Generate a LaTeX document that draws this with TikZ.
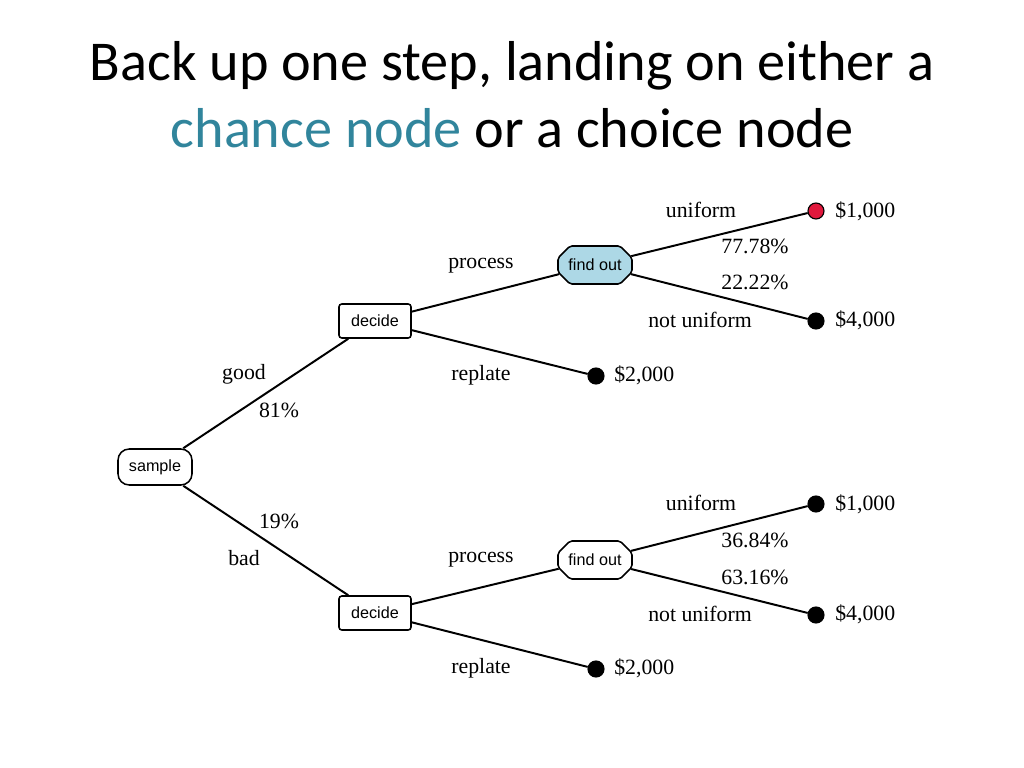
\documentclass[tikz,border=0pt]{standalone}
\usepackage{fontspec}
\setmainfont{Liberation Serif}
\setsansfont{Liberation Sans}
\newfontfamily\titlefont{Carlito}
\usetikzlibrary{shapes.misc}
\definecolor{chancecol}{HTML}{31859C}
\definecolor{findfill}{HTML}{ADD8E6}
\definecolor{payred}{HTML}{E0183C}
\tikzset{
  choicebox/.style={draw,line width=1.1pt,rounded corners=2pt,minimum width=1.8cm,minimum height=0.85cm,inner sep=0pt,font=\sffamily\fontsize{11.5}{12}\selectfont},
  chancebox/.style={draw,line width=1.1pt,chamfered rectangle,chamfered rectangle xsep=0.15cm,chamfered rectangle ysep=0.15cm,rounded corners=1.5pt,minimum width=1.85cm,minimum height=0.95cm,inner sep=0pt,font=\sffamily\fontsize{11.5}{12}\selectfont},
  startbox/.style={draw,line width=1.1pt,rounded corners=8pt,minimum width=1.85cm,minimum height=0.9cm,inner sep=0pt,font=\sffamily\fontsize{11.5}{12}\selectfont},
  paydot/.style={circle,draw,fill=black,line width=0.8pt,minimum size=0.4cm,inner sep=0pt},
  lbl/.style={font=\fontsize{15.5}{16}\selectfont,inner sep=0pt},
  pay/.style={lbl,anchor=west},
  branch/.style={line width=1.4pt}
}
\begin{document}
\begin{tikzpicture}[x=0.025cm,y=-0.025cm]
    \useasboundingbox (0,0) rectangle (1024,768);
    %\draw[help lines] (0,0) grid[step=50] (1024,768);
       \node[font=\titlefont\fontsize{40}{48}\selectfont,anchor=base] (title1) at (512,81) {Back up one step, landing on either a};
       \node[font=\titlefont\fontsize{40}{48}\selectfont,anchor=base] (title2) at (512,148) {\textcolor{chancecol}{chance node} or a choice node};
       % tree nodes
       \node[startbox] (sample) at (155,467) {sample};
       \node[choicebox] (decideA) at (375,321) {decide};
       \node[choicebox] (decideB) at (375,613) {decide};
       \node[chancebox,fill=findfill] (findA) at (595,265) {find out};
       \node[chancebox] (findB) at (595,560) {find out};
       \node[paydot,fill=payred] (oneA) at (816,211) {};
       \node[paydot] (fourA) at (816,321) {};
       \node[paydot] (twoA) at (596,376) {};
       \node[paydot] (oneB) at (816,504) {};
       \node[paydot] (fourB) at (816,615) {};
       \node[paydot] (twoB) at (596,669) {};
       % branches
       \draw[branch] (sample) -- (decideA);
       \draw[branch] (sample) -- (decideB);
       \draw[branch] (decideA) -- (findA);
       \draw[branch] (decideA) -- (twoA);
       \draw[branch] (decideB) -- (findB);
       \draw[branch] (decideB) -- (twoB);
       \draw[branch] (findA) -- (oneA);
       \draw[branch] (findA) -- (fourA);
       \draw[branch] (findB) -- (oneB);
       \draw[branch] (findB) -- (fourB);
       % labels
       \node[lbl] (good) at (244,374) {good};
       \node[lbl] (pgood) at (279,410) {81\%};
       \node[lbl] (pbad) at (279,521) {19\%};
       \node[lbl] (bad) at (244,558) {bad};
       \node[lbl] (procA) at (481,266) {process};
       \node[lbl] (replA) at (481,375) {replate};
       \node[lbl] (procB) at (481,560) {process};
       \node[lbl] (replB) at (481,668) {replate};
       \node[lbl] (uniA) at (701,210) {uniform};
       \node[lbl] (puniA) at (755,246) {77.78\%};
       \node[lbl] (pnotA) at (755,282) {22.22\%};
       \node[lbl] (notA) at (700,320) {not uniform};
       \node[lbl] (uniB) at (701,503) {uniform};
       \node[lbl] (puniB) at (755,540) {36.84\%};
       \node[lbl] (pnotB) at (755,577) {63.16\%};
       \node[lbl] (notB) at (700,614) {not uniform};
       \node[pay] (vOneA) at (835,211) {\$1,000};
       \node[pay] (vFourA) at (835,320) {\$4,000};
       \node[pay] (vTwoA) at (614,375) {\$2,000};
       \node[pay] (vOneB) at (835,504) {\$1,000};
       \node[pay] (vFourB) at (835,614) {\$4,000};
       \node[pay] (vTwoB) at (614,668) {\$2,000};
\end{tikzpicture}
\end{document}
